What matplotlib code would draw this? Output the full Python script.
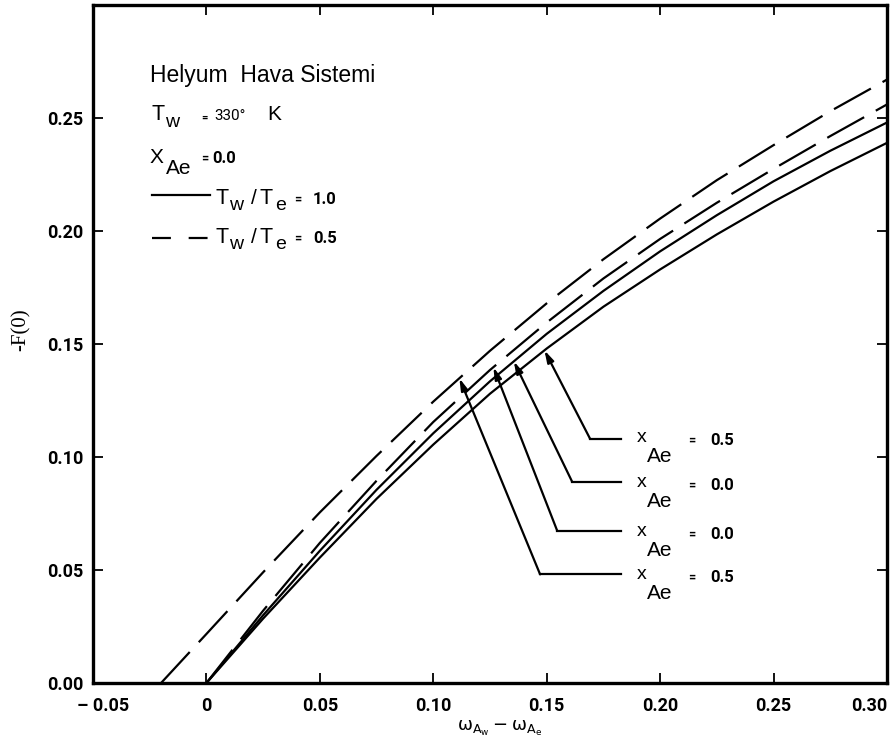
import numpy as np
import matplotlib.pyplot as plt
from matplotlib import font_manager
from matplotlib.lines import Line2D
from matplotlib.transforms import ScaledTranslation

W, H = 894, 744

_names = {f.name for f in font_manager.fontManager.ttflist}
SANS = 'Liberation Sans'
NUM = 'Liberation Sans Narrow' if 'Liberation Sans Narrow' in _names else 'Roboto'
SERIF = 'Liberation Serif'

# omega_Aw - omega_Ae
x_dash_a = [-0.02, 0.0, 0.025, 0.05, 0.075, 0.10, 0.125, 0.15, 0.175, 0.20, 0.225, 0.25, 0.275, 0.30]
f_dash_a = [0.0, 0.0217, 0.049, 0.0755, 0.1005, 0.1245, 0.147, 0.168, 0.1875, 0.2055, 0.2225, 0.238, 0.253, 0.267]

x_common = [0.0, 0.025, 0.05, 0.075, 0.10, 0.125, 0.15, 0.175, 0.20, 0.225, 0.25, 0.275, 0.30]
f_dash_b = [0.0, 0.032, 0.062, 0.0895, 0.1155, 0.1385, 0.1595, 0.179, 0.1965, 0.2125, 0.2275, 0.242, 0.256]
f_solid_c = [0.0, 0.030, 0.0585, 0.0855, 0.1105, 0.1335, 0.1545, 0.1735, 0.191, 0.207, 0.222, 0.2355, 0.248]
f_solid_d = [0.0, 0.0285, 0.0555, 0.0815, 0.1055, 0.128, 0.148, 0.1665, 0.183, 0.1985, 0.213, 0.2265, 0.239]

xticks = [-0.05, 0.0, 0.05, 0.10, 0.15, 0.20, 0.25, 0.30]
xtick_labels = ['\u2013 0.05', '0', '0.05', '0.10', '0.15', '0.20', '0.25', '0.30']
yticks = [0.0, 0.05, 0.10, 0.15, 0.20, 0.25]
ytick_labels = ['0.00', '0.05', '0.10', '0.15', '0.20', '0.25']

# arrow labels (value shown, where the tip lands on its curve)
label_vals = ['0.5', '0.0', '0.0', '0.5']
tip_x = [0.149, 0.1355, 0.1265, 0.1115]

fig = plt.figure(figsize=(W / 100, H / 100), dpi=100)
ax = fig.add_axes([93 / W, 1 - 683 / H, (887 - 93) / W, (683 - 5) / H])

lw = 1.6
dash = (19, 6)
ax.plot(x_dash_a, f_dash_a, color='k', lw=lw, dashes=dash)
ax.plot(x_common, f_dash_b, color='k', lw=lw, dashes=dash)
ax.plot(x_common, f_solid_c, color='k', lw=lw)
ax.plot(x_common, f_solid_d, color='k', lw=lw)

ax.set_xlim(-0.05, 0.30)
ax.set_ylim(0.0, 0.30)
ax.set_xticks(xticks)
ax.set_xticklabels(xtick_labels)
ax.set_yticks(yticks)
ax.set_yticklabels(ytick_labels)
ax.tick_params(direction='in', length=7, width=1.3, top=True, right=True)
ax.tick_params(axis='x', pad=10)
ax.tick_params(axis='y', pad=7)
for lab in ax.get_xticklabels() + ax.get_yticklabels():
    lab.set_fontfamily(NUM)
    lab.set_fontweight('bold')
    lab.set_fontsize(13)
xl = ax.get_xticklabels()
xl[-1].set_ha('right')
xl[0].set_transform(xl[0].get_transform() + ScaledTranslation(0.1, 0, fig.dpi_scale_trans))
for sp in ax.spines.values():
    sp.set_linewidth(2.4)


def put(x, y, s, size, bold=False, family=SANS):
    # x, y in pixels of the picture, y is the baseline
    fig.text(x / W, 1 - y / H, s, fontsize=size, family=family,
             fontweight='bold' if bold else 'normal', va='baseline', ha='left')


def pix2data(x, y):
    return -0.05 + (x - 93) / 2268, (683 - y) / 2268


# upper left text block
put(150, 82, 'Helyum  Hava Sistemi', 16.5)
put(151, 120, 'T', 15.5)
put(165, 127, 'w', 14)
put(201, 121, '=', 8, bold=True, family=NUM)
put(214, 120, '330\u00b0', 11, family=NUM)
put(267, 120, 'K', 15)
put(150, 163, 'X', 15)
put(166, 174, 'Ae', 15)
put(201, 162, '=', 9, bold=True, family=NUM)
put(212, 163, '0.0', 12, bold=True, family=NUM)

for yl, yb, val, solid in [(195, 204, '1.0', True), (238, 243, '0.5', False)]:
    ln = Line2D([152 / W, 210 / W], [1 - yl / H] * 2, color='k', lw=lw,
                transform=fig.transFigure)
    if not solid:
        ln.set_dashes((8.5, 8))
    fig.add_artist(ln)
    put(215, yb, 'T', 15.5)
    put(229, yb + 6, 'w', 14)
    put(251, yb, '/', 15)
    put(260, yb, 'T', 15.5)
    put(275, yb + 6, 'e', 14)
    put(294, yb - 1, '=', 9, bold=True, family=NUM)
    put(313, yb, val, 12, bold=True, family=NUM)

# labels on the right with leader lines and arrows
curves = [(x_common, f_solid_d), (x_common, f_solid_c), (x_common, f_dash_b), (x_dash_a, f_dash_a)]
rows = [(438, 590, 443), (481, 572, 488), (530, 557, 537), (574, 540, 580)]
for (ly, lx0, xb), val, tx, (cx, cy) in zip(rows, label_vals, tip_x, curves):
    ex, ey = pix2data(lx0, ly)
    rx, _ = pix2data(621, ly)
    ty = np.interp(tx, cx, cy)
    ax.plot([ex, rx], [ey, ey], color='k', lw=1.6)
    ax.annotate('', xy=(tx, ty), xytext=(ex, ey),
                arrowprops=dict(arrowstyle='-|>,head_length=0.7,head_width=0.2',
                                color='k', lw=1.6, shrinkA=0, shrinkB=0))
    put(637, xb - 1, 'x', 14)
    put(647, xb + 19, 'Ae', 15)
    put(688, xb + 1, '=', 9, bold=True, family=NUM)
    put(710, xb + 2, val, 12, bold=True, family=NUM)

# axis titles
fig.text(21 / W, 1 - 330 / H, '-F(0)', rotation=90, family=SERIF, fontsize=15,
         va='center', ha='center')
fig.text(500 / W, 1 - 728 / H,
         r'$\mathrm{\omega}_{\mathrm{A_w}} - \mathrm{\omega}_{\mathrm{A_e}}$',
         fontsize=13, va='center', ha='center')

fig.savefig('out.png', dpi=100)
